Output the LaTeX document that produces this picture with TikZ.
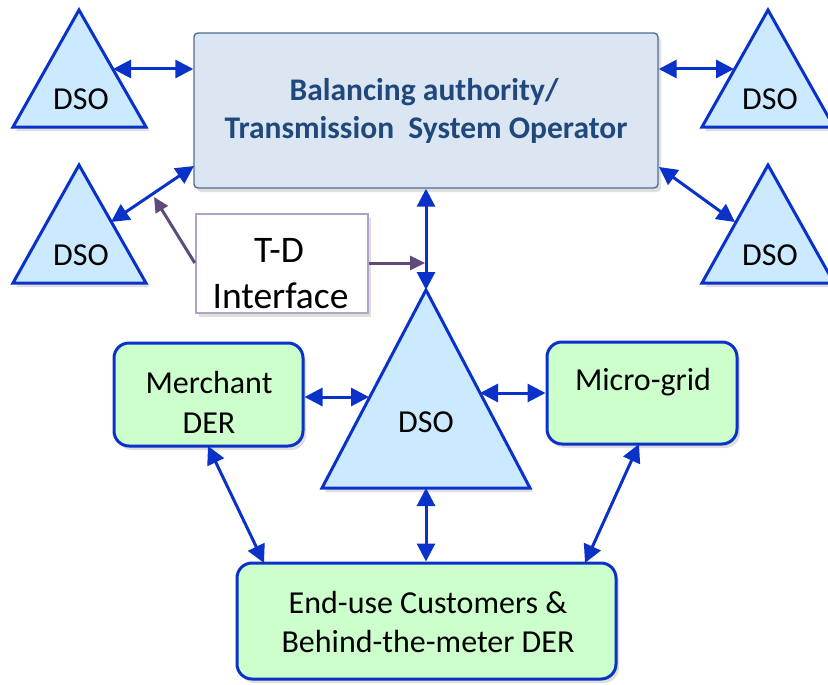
\documentclass[tikz,border=0pt]{standalone}
\usepackage{fontspec}
\setmainfont{Carlito}
\usetikzlibrary{arrows.meta,shadows}
\definecolor{blueline}{HTML}{0A32C8}
\definecolor{trifill}{HTML}{CCEAFF}
\definecolor{greenfill}{HTML}{CCFFCC}
\definecolor{tsofill}{HTML}{DCE6F2}
\definecolor{tsoline}{HTML}{4F6E96}
\definecolor{tsotext}{HTML}{1F497D}
\definecolor{purp}{HTML}{5F4B7B}
\definecolor{tdline}{HTML}{B3A2C7}
\begin{document}
\begin{tikzpicture}[x=1pt,y=-1pt,
  shad/.style={drop shadow={shadow xshift=3pt,shadow yshift=-4pt,opacity=0.25}},
  tri/.style={draw=blueline,line width=3pt,fill=trifill,line join=miter,shad},
  greenbox/.style={draw=blueline,line width=3pt,fill=greenfill,rounded corners=15pt,shad},
  txt/.style={anchor=base,inner sep=0pt,font=\fontsize{32}{38}\selectfont},
  tdtxt/.style={anchor=base,inner sep=0pt,font=\fontsize{37.5}{44}\selectfont},
  tsotxt/.style={anchor=base,inner sep=0pt,font=\fontsize{31.5}{38}\selectfont\bfseries,text=tsotext},
  biarrow/.style={draw=blueline,line width=3pt,{Triangle[length=18pt,width=18pt]}-{Triangle[length=18pt,width=18pt]}},
  parrow/.style={draw=purp,line width=3pt,-{Triangle[length=15pt,width=14pt]}}
]
\useasboundingbox (0,0) rectangle (828,685);

% triangles
\path[tri] (79,10) -- (146,127) -- (13,127) -- cycle;
\path[tri] (79,165) -- (146,283) -- (13,283) -- cycle;
\path[tri] (768,10) -- (834,127) -- (702,127) -- cycle;
\path[tri] (768,165) -- (834,283) -- (702,283) -- cycle;
\path[tri] (426,290) -- (530,488) -- (322,488) -- cycle;

\node[txt] (tA) at (81,110) {DSO};
\node[txt] (tB) at (81,265) {DSO};
\node[txt] (tC) at (770,110) {DSO};
\node[txt] (tD) at (770,265) {DSO};
\node[txt] (tM) at (426,432) {DSO};

% main box
\node[draw=tsoline,line width=1.4pt,fill=tsofill,rounded corners=4pt,shad,
      minimum width=464pt,minimum height=155pt,inner sep=0pt] (tso) at (426,110.5) {};
\node[tsotxt] (tso1) at (424,100) {Balancing authority/};
\node[tsotxt] (tso2) at (426,139) {Transmission\ \ System Operator};

% T-D interface box
\node[draw=tdline,line width=2.4pt,fill=white,shad,
      minimum width=172pt,minimum height=99pt,inner sep=0pt] (td) at (282,263.5) {};
\node[tdtxt] (td1) at (279,262) {T-D};
\node[tdtxt] (td2) at (280.5,308) {Interface};

% green boxes
\node[greenbox,minimum width=189pt,minimum height=103pt,inner sep=0pt] (mer) at (208.5,394.5) {};
\node[txt] (mer1) at (209,393) {Merchant};
\node[txt] (mer2) at (209,433) {DER};
\node[greenbox,minimum width=190pt,minimum height=102pt,inner sep=0pt] (mic) at (642,393) {};
\node[txt] (mic1) at (643,390) {Micro-grid};
\node[greenbox,minimum width=379pt,minimum height=116pt,inner sep=0pt] (end) at (426.5,621) {};
\node[txt] (end1) at (428,613) {End-use Customers \&};
\node[txt] (end2) at (428,652) {Behind-the-meter\ DER};

% connector end points on triangles
\coordinate (eA) at (113,69);
\coordinate (eB) at (111,222);
\coordinate (eC) at (734,69);
\coordinate (eD) at (735,222);
\coordinate (eMtop) at (426,290);
\coordinate (eMl) at (369,397);
\coordinate (eMr) at (480,393);
\coordinate (eMb) at (426,488);
\coordinate (tsoBL) at (194,166);
\coordinate (tsoBR) at (659,167);
\coordinate (merB) at (208,446);
\coordinate (endL) at (264,563);
\coordinate (micB) at (639,444);
\coordinate (endR) at (585,563);

% blue connectors
\draw[biarrow] (eA) -- (eA -| tso.west);
\draw[biarrow] (tsoBL) -- (eB);
\draw[biarrow] (eC -| tso.east) -- (eC);
\draw[biarrow] (tsoBR) -- (eD);
\draw[biarrow] (tso.south) -- (eMtop);
\draw[biarrow] (mer.east |- eMl) -- (eMl);
\draw[biarrow] (eMr) -- (eMr -| mic.west);
\draw[biarrow] (eMb) -- (eMb |- end.north);
\draw[biarrow] (merB) -- (endL);
\draw[biarrow] (micB) -- (endR);

% purple connectors
\coordinate (pA) at (154,197);
\coordinate (pB) at (425,263);
\draw[parrow] (td.west |- 0,263) -- (pA);
\draw[parrow] (td.east |- 0,263) -- (pB);
\end{tikzpicture}
\end{document}
